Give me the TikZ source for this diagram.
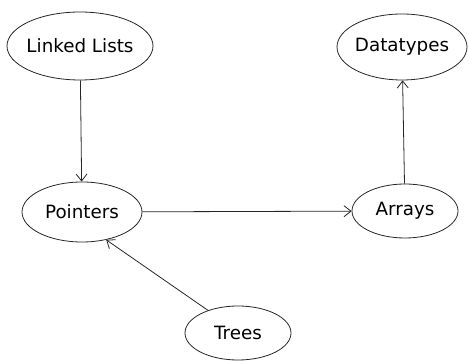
\documentclass[tikz,border=0pt]{standalone}
\usepackage{fontspec}
\setmainfont{DejaVu Sans}
\usetikzlibrary{shapes.geometric,arrows.meta}
\begin{document}
\begin{tikzpicture}[x=1pt,y=1pt,
  topic/.style={ellipse,draw=black!85,line width=0.8pt,inner xsep=-40pt,inner ysep=-10pt,font=\fontsize{18.3}{20}\selectfont},
  link/.style={draw=black!85,line width=0.8pt,-{Straight Barb[length=7pt,width=11pt,line width=0.8pt]}}]
\useasboundingbox (0,0) rectangle (469,361);
\node[topic,minimum width=146,minimum height=68] (ll) at (80,315) {Linked Lists};
\node[topic,minimum width=130,minimum height=66] (dt) at (402,314) {Datatypes};
\node[topic,minimum width=120,minimum height=60] (pt) at (82,149) {Pointers};
\node[topic,minimum width=106,minimum height=54] (ar) at (405,150) {Arrays};
\node[topic,minimum width=106,minimum height=54] (tr) at (238,28) {Trees};
\draw[link] (ll) -- (pt);
\draw[link] (pt) -- (ar);
\draw[link] (ar) -- (dt);
\draw[link] (tr.143) -- (pt.-49);
\end{tikzpicture}
\end{document}
